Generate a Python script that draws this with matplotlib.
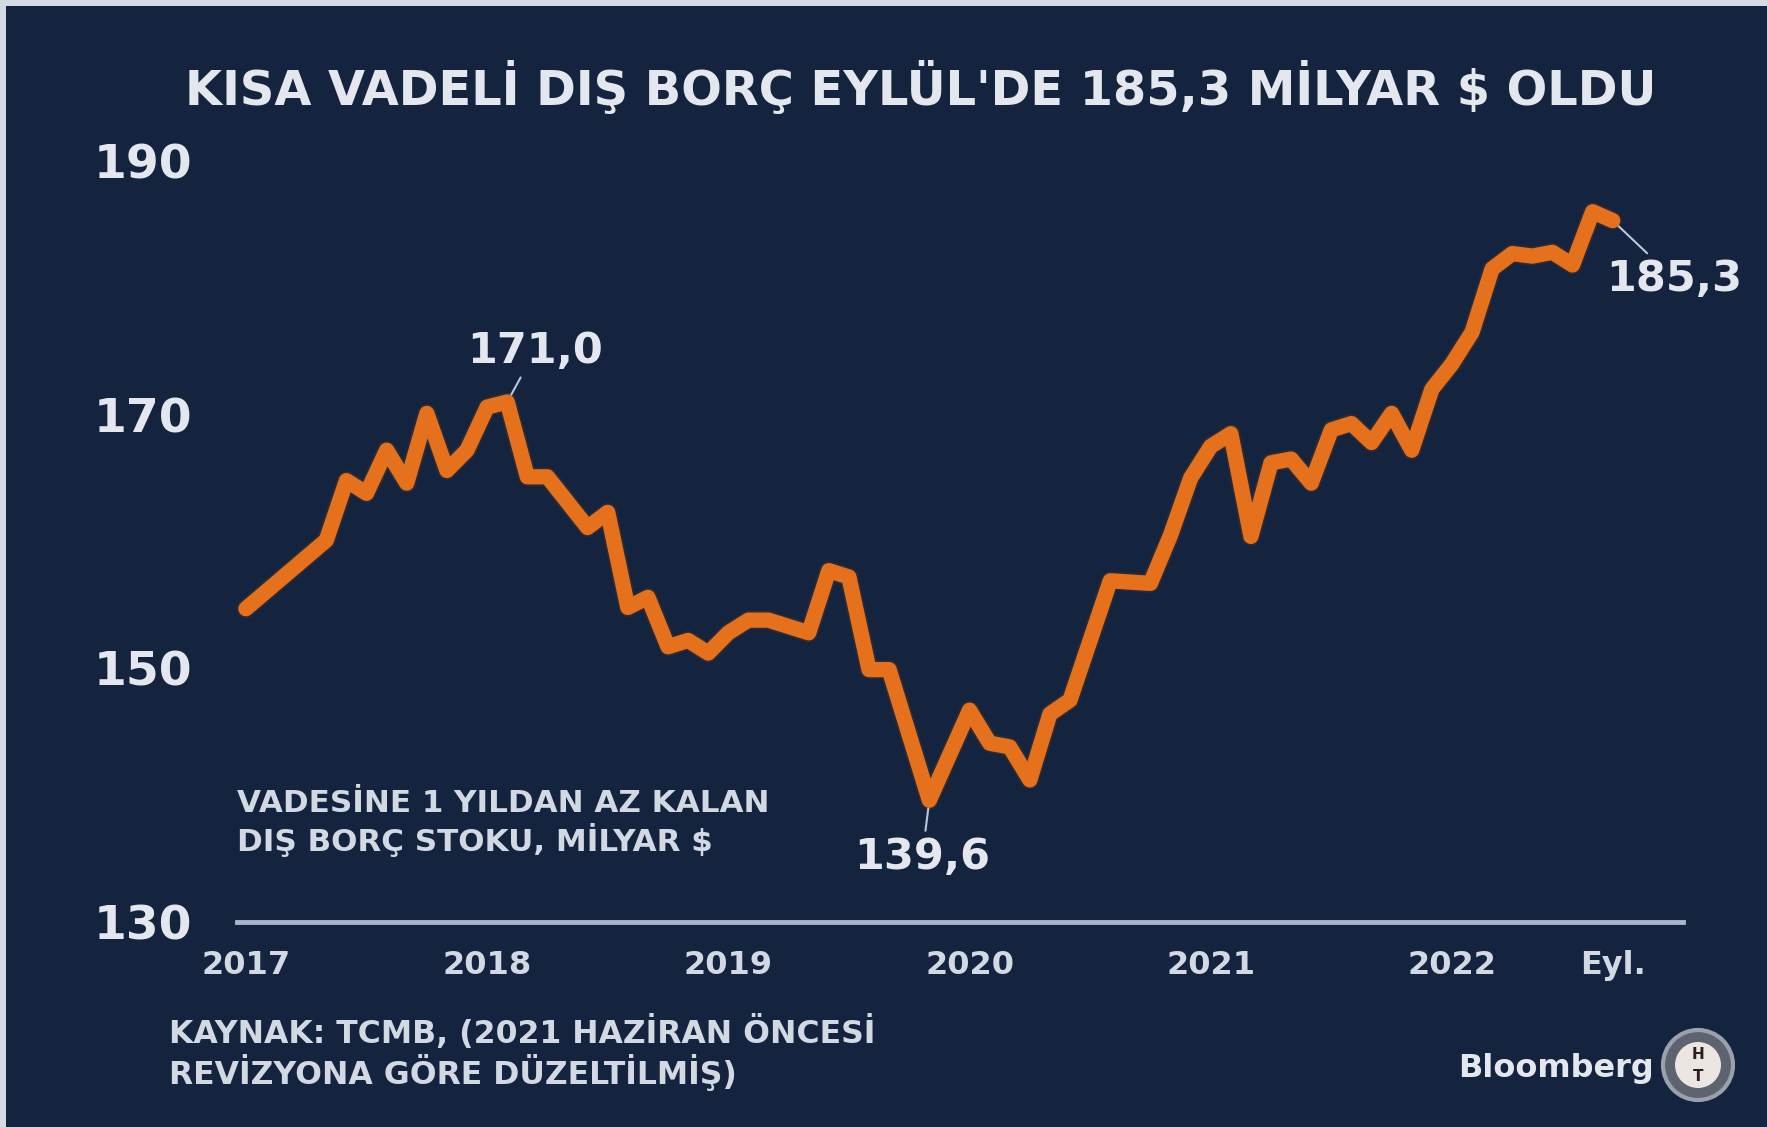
import matplotlib
matplotlib.use("Agg")
import matplotlib.pyplot as plt
import matplotlib.patheffects as pe
from matplotlib.patches import Rectangle, Ellipse

# monthly readings (only where the line bends)
months = ["2017-01", "2017-05", "2017-06", "2017-07", "2017-08", "2017-09",
          "2017-10", "2017-11", "2017-12", "2018-01", "2018-02", "2018-03",
          "2018-04", "2018-06", "2018-07", "2018-08", "2018-09", "2018-10",
          "2018-11", "2018-12", "2019-01", "2019-02", "2019-03", "2019-05",
          "2019-06", "2019-07", "2019-08", "2019-09", "2019-11", "2020-01",
          "2020-02", "2020-03", "2020-04", "2020-05", "2020-06", "2020-08",
          "2020-10", "2020-11", "2020-12", "2021-01", "2021-02", "2021-03",
          "2021-04", "2021-05", "2021-06", "2021-07", "2021-08", "2021-09",
          "2021-10", "2021-11", "2021-12", "2022-01", "2022-02", "2022-03",
          "2022-04", "2022-05", "2022-06", "2022-07", "2022-08", "2022-09"]
debt = [154.7, 160.1, 164.8, 163.8, 167.2, 164.6,
        170.1, 165.6, 167.2, 170.6, 171.0, 165.1,
        165.1, 161.1, 162.3, 154.8, 155.6, 151.7,
        152.2, 151.2, 152.8, 153.8, 153.8, 152.8,
        157.7, 157.2, 149.9, 149.9, 139.6, 146.7,
        144.1, 143.8, 141.2, 146.4, 147.5, 156.9,
        156.7, 160.5, 165.0, 167.5, 168.5, 160.4,
        166.2, 166.5, 164.6, 168.8, 169.3, 167.8,
        170.1, 167.2, 172.0, 174.0, 176.5, 181.5,
        182.7, 182.5, 182.8, 181.8, 186.0, 185.3]

year_ticks = [2017, 2018, 2019, 2020, 2021, 2022, "2022-09"]
year_labels = ["2017", "2018", "2019", "2020", "2021", "2022", "Eyl."]
y_ticks = [130, 150, 170, 190]

# labelled points: (month, text)
callouts = [("2018-02", "171,0"), ("2019-11", "139,6"), ("2022-09", "185,3")]


def to_x(m):
    if isinstance(m, int):
        return float(m)
    y, mo = m.split("-")
    return int(y) + (int(mo) - 1) / 12


navy = "#14243f"
orange = "#e6711d"
light = "#e4e8ee"
soft = "#d3d9e2"

fig = plt.figure(figsize=(17.67, 11.27), dpi=100)
fig.patch.set_facecolor("#d6dbe2")
fig.patches.append(Rectangle((6 / 1767, 0), 1, 1 - 6 / 1127,
                             transform=fig.transFigure, facecolor=navy,
                             edgecolor="none", zorder=-10))

ax = fig.add_axes([237 / 1767, 205 / 1127, 1446 / 1767, 761 / 1127])
ax.set_facecolor("none")
ax.set_xlim(2016.963, 2022.958)
ax.set_ylim(130, 190)

xs = [to_x(m) for m in months]
ax.plot(xs, debt, color=orange, lw=11, solid_joinstyle="round",
        solid_capstyle="round", clip_on=False, zorder=3,
        path_effects=[pe.Stroke(linewidth=13.5, foreground="#2b2a35"),
                      pe.Normal()])

for s in ["top", "right", "left"]:
    ax.spines[s].set_visible(False)
ax.spines["bottom"].set_color("#a9b7cc")
ax.spines["bottom"].set_linewidth(3.5)

ax.set_yticks(y_ticks)
ax.set_yticklabels([str(v) for v in y_ticks])
ax.set_xticks([to_x(t) for t in year_ticks])
ax.set_xticklabels(year_labels)
ax.tick_params(axis="y", length=0, pad=32, labelsize=34, labelcolor=light)
ax.tick_params(axis="x", length=0, pad=20, labelsize=23, labelcolor=soft)
for lab in ax.get_xticklabels() + ax.get_yticklabels():
    lab.set_fontweight("bold")

# callouts
offsets = {"171,0": (0.115, 4.0), "139,6": (-0.03, -4.5), "185,3": (0.255, -4.6)}
for m, txt in callouts:
    x = to_x(m)
    y = debt[months.index(m)]
    dx, dy = offsets[txt]
    ax.annotate(txt, xy=(x, y), xytext=(x + dx, y + dy),
                ha="center", va="center", fontsize=31, fontweight="bold",
                color=light, zorder=5,
                arrowprops=dict(arrowstyle="-", color="#b7c6da", lw=1.5,
                                shrinkA=2, shrinkB=6))

fig.text(0.521, 0.922, "KISA VADELİ DIŞ BORÇ EYLÜL'DE 185,3 MİLYAR $ OLDU",
         ha="center", va="center", fontsize=34.5, fontweight="bold", color=light)

fig.text(237 / 1767, 1 - 823 / 1127,
         "VADESİNE 1 YILDAN AZ KALAN\nDIŞ BORÇ STOKU, MİLYAR $",
         ha="left", va="center", fontsize=22.3, fontweight="bold", color=soft,
         linespacing=1.15)

fig.text(169 / 1767, 1 - 1053 / 1127,
         "KAYNAK: TCMB, (2021 HAZİRAN ÖNCESİ\nREVİZYONA GÖRE DÜZELTİLMİŞ)",
         ha="left", va="center", fontsize=22.7, fontweight="bold", color=soft,
         linespacing=1.15)

fig.text(1654 / 1767, 1 - 1068 / 1127, "Bloomberg", ha="right", va="center",
         fontsize=23, fontweight="bold", color=light)

# HT badge
cx, cy = 1698 / 1767, 1 - 1065 / 1127
fig.patches.append(Ellipse((cx, cy), 70 / 1767, 70 / 1127,
                           transform=fig.transFigure, facecolor="#5d6470",
                           edgecolor="#9aa1ab", lw=3, zorder=2))
fig.patches.append(Ellipse((cx, cy), 46 / 1767, 46 / 1127,
                           transform=fig.transFigure, facecolor="#ece6e2",
                           edgecolor="none", zorder=3))
fig.text(cx, cy + 0.009, "H", ha="center", va="center", fontsize=11,
         fontweight="bold", color="#2a1e1e", zorder=4)
fig.text(cx, cy - 0.010, "T", ha="center", va="center", fontsize=11,
         fontweight="bold", color="#2a1e1e", zorder=4)

fig.savefig("out.png", dpi=100, facecolor=fig.get_facecolor())
